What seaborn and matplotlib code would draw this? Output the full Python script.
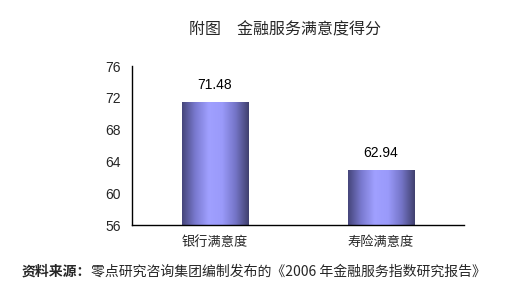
import numpy as np
import pandas as pd
import matplotlib
matplotlib.use("Agg")
import matplotlib.pyplot as plt
from matplotlib.colors import LinearSegmentedColormap
import seaborn as sns

categories = ["银行满意度", "寿险满意度"]
scores = [71.48, 62.94]
yticks = [56, 60, 64, 68, 72, 76]
title = "附图　金融服务满意度得分"
source_bold = "资料来源："
source_text = "零点研究咨询集团编制发布的《2006 年金融服务指数研究报告》"

sns.set_theme(style="white")
plt.rcParams['font.family'] = ['Liberation Sans', 'Noto Sans CJK SC', 'DejaVu Sans']

fig = plt.figure(figsize=(5.08, 3.06), dpi=100)
ax = fig.add_axes([132/508, 1-225/306, 332/508, 159/306])

df = pd.DataFrame({"cat": categories, "score": scores})
sns.barplot(data=df, x="cat", y="score", ax=ax, width=0.4, color="#8888ee",
            edgecolor="none", saturation=1)

ax.set_ylim(56, 76)
ax.set_yticks(yticks)
ax.set_yticklabels([str(t) for t in yticks], fontsize=10)
ax.set_xlabel("")
ax.set_ylabel("")
ax.tick_params(axis='y', direction='out', length=5, width=1, color='black', pad=3)
ax.tick_params(axis='x', length=0, pad=8, labelsize=9.5)
for s in ["top", "right"]:
    ax.spines[s].set_visible(False)
for s in ["left", "bottom"]:
    ax.spines[s].set_color("black")
    ax.spines[s].set_linewidth(1)
ax.set_facecolor("white")

# gradient fill for bars
cmap = LinearSegmentedColormap.from_list("bar", ["#45457a", "#7a7ad0", "#a0a0ff", "#9a9afa", "#7575c8", "#40406e"])
grad = np.linspace(0, 1, 256).reshape(1, -1)
for p in ax.patches:
    x0, y0 = p.get_x(), p.get_y()
    w, h = p.get_width(), p.get_height()
    im = ax.imshow(grad, cmap=cmap, aspect='auto', extent=[x0, x0 + w, 56, y0 + h],
                   zorder=p.get_zorder() + 0.1)
    im.set_clip_path(p)
ax.set_xlim(-0.5, 1.5)
ax.set_ylim(56, 76)

for i, v in enumerate(scores):
    ax.annotate(f"{v:.2f}", (i, v), xytext=(0, 7), textcoords="offset points",
                ha="center", va="bottom", fontsize=10, color="black")

fig.text(285/508, 1-30/306, title, ha="center", va="center", fontsize=11.5,
         family=['Noto Sans CJK SC', 'DejaVu Sans'])
t1 = fig.text(22/508, 1-272/306, source_bold, ha="left", va="center", fontsize=10,
              fontweight="bold", family=['Noto Sans CJK SC', 'DejaVu Sans'])
fig.canvas.draw()
bb = t1.get_window_extent()
fig.text(bb.x1/fig.bbox.width, 1-272/306, source_text, ha="left", va="center", fontsize=10,
         family=['Noto Sans CJK SC', 'DejaVu Sans'])

fig.savefig("out.png", dpi=100, facecolor="white")
